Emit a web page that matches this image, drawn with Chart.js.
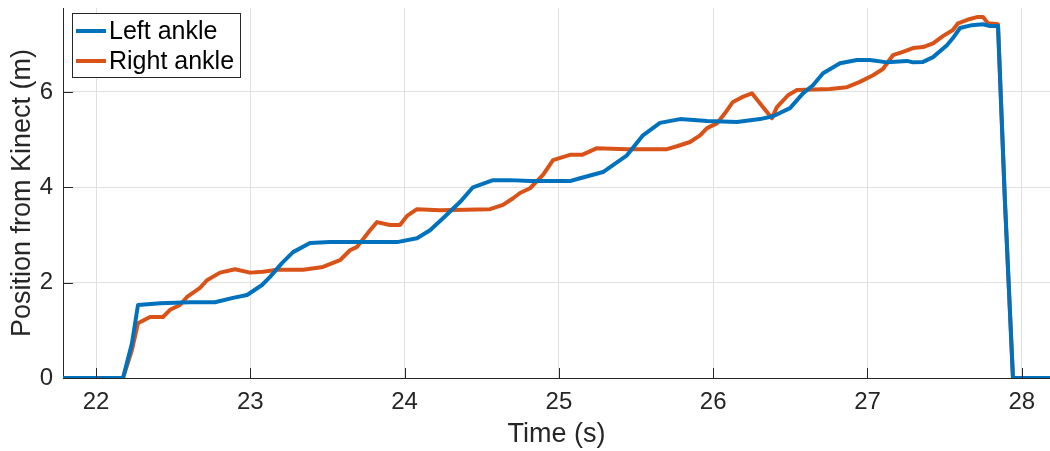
<!DOCTYPE html>
<html>
<head>
<meta charset="utf-8">
<title>Ankle position</title>
<script src="https://cdn.jsdelivr.net/npm/chart.js@4.4.1/dist/chart.umd.min.js"></script>
<style>
  html, body { margin: 0; padding: 0; background: #fff; }
  canvas { display: block; }
</style>
</head>
<body>
<canvas id="grafica" width="1050" height="451"></canvas>
<script>
// ankle positions read from the Kinect, time in seconds, position in metres
const leftTime = [21.786, 22.175, 22.233, 22.272, 22.415, 22.609, 22.771, 22.888, 22.979, 23.076,
  23.128, 23.205, 23.277, 23.387, 23.517, 23.951, 24.080, 24.165, 24.249, 24.359,
  24.443, 24.573, 24.683, 24.813, 25.072, 25.137, 25.286, 25.441, 25.545, 25.655,
  25.785, 25.960, 26.154, 26.303, 26.388, 26.498, 26.582, 26.647, 26.712, 26.822,
  26.932, 27.016, 27.126, 27.256, 27.295, 27.360, 27.425, 27.515, 27.554, 27.600,
  27.677, 27.749, 27.794, 27.846, 27.891, 27.943, 28.183];
const leftPos = [0, 0, 0.73, 1.53, 1.57, 1.59, 1.59, 1.68, 1.74, 1.95,
  2.12, 2.41, 2.64, 2.83, 2.85, 2.85, 2.93, 3.10, 3.35, 3.69,
  4.00, 4.15, 4.15, 4.13, 4.13, 4.19, 4.32, 4.67, 5.09, 5.35,
  5.43, 5.39, 5.37, 5.43, 5.49, 5.66, 5.97, 6.14, 6.39, 6.60,
  6.67, 6.67, 6.62, 6.65, 6.62, 6.63, 6.73, 6.98, 7.13, 7.34,
  7.40, 7.42, 7.38, 7.38, 3.70, 0, 0];

const rightTime = [21.786, 22.175, 22.233, 22.272, 22.350, 22.434, 22.480, 22.544, 22.590, 22.674,
  22.719, 22.804, 22.901, 22.998, 23.082, 23.173, 23.342, 23.471, 23.581, 23.646,
  23.692, 23.776, 23.821, 23.905, 23.970, 24.016, 24.080, 24.229, 24.553, 24.638,
  24.703, 24.748, 24.813, 24.897, 24.962, 25.072, 25.150, 25.247, 25.441, 25.701,
  25.765, 25.850, 25.915, 25.960, 26.024, 26.076, 26.128, 26.187, 26.251, 26.381,
  26.413, 26.485, 26.543, 26.757, 26.867, 26.951, 27.036, 27.100, 27.165, 27.230,
  27.295, 27.360, 27.425, 27.489, 27.554, 27.587, 27.664, 27.710, 27.749, 27.781,
  27.846, 27.891, 27.943, 28.183];
const rightPos = [0, 0, 0.59, 1.15, 1.28, 1.28, 1.43, 1.53, 1.70, 1.89,
  2.05, 2.21, 2.28, 2.21, 2.23, 2.27, 2.27, 2.33, 2.47, 2.68,
  2.75, 3.10, 3.27, 3.21, 3.21, 3.40, 3.54, 3.52, 3.54, 3.63,
  3.77, 3.88, 3.98, 4.26, 4.57, 4.68, 4.68, 4.82, 4.80, 4.80,
  4.86, 4.95, 5.09, 5.24, 5.34, 5.55, 5.79, 5.89, 5.97, 5.45,
  5.68, 5.93, 6.04, 6.06, 6.10, 6.21, 6.35, 6.48, 6.77, 6.84,
  6.92, 6.94, 7.02, 7.17, 7.30, 7.44, 7.53, 7.57, 7.57, 7.44,
  7.42, 3.70, 0, 0];

const seriesNames = ["Left ankle", "Right ankle"];
const timeRange = [21.786, 28.183];
const posRange = [0, 7.76];

const FONT = '"Liberation Sans", Arial, Helvetica, sans-serif';
const INK = '#262626';

function puntos(ts, vs) {
  return ts.map((t, i) => ({ x: t, y: vs[i] }));
}

// small tick marks pointing into the plot
const inwardTicks = {
  id: 'inwardTicks',
  afterDatasetsDraw(chart) {
    const { ctx, chartArea: a, scales: { x, y } } = chart;
    ctx.save();
    ctx.strokeStyle = INK;
    ctx.lineWidth = 1;
    ctx.beginPath();
    x.ticks.forEach(t => {
      const px = Math.round(x.getPixelForValue(t.value)) + 0.5;
      ctx.moveTo(px, a.bottom);
      ctx.lineTo(px, a.bottom - 10);
    });
    y.ticks.forEach(t => {
      const py = Math.round(y.getPixelForValue(t.value)) + 0.5;
      ctx.moveTo(a.left, py);
      ctx.lineTo(a.left + 10, py);
    });
    ctx.stroke();
    ctx.restore();
  }
};

// boxed legend inside the top-left corner
const legendBox = {
  id: 'legendBox',
  afterDraw(chart) {
    const ctx = chart.ctx, a = chart.chartArea;
    const x0 = a.left + 9, y0 = a.top + 5, w = 168, h = 64;
    ctx.save();
    ctx.fillStyle = '#fff';
    ctx.fillRect(x0, y0, w, h);
    ctx.strokeStyle = INK;
    ctx.lineWidth = 1;
    ctx.strokeRect(x0 + 0.5, y0 + 0.5, w, h);
    ctx.font = '25px ' + FONT;
    ctx.textBaseline = 'middle';
    chart.data.datasets.forEach((ds, i) => {
      const yy = y0 + 18 + i * 30;
      ctx.strokeStyle = ds.borderColor;
      ctx.lineWidth = 4;
      ctx.beginPath();
      ctx.moveTo(x0 + 4, yy);
      ctx.lineTo(x0 + 34, yy);
      ctx.stroke();
      ctx.fillStyle = '#000';
      ctx.fillText(ds.label, x0 + 37, yy + 1);
    });
    ctx.restore();
  }
};

new Chart(document.getElementById('grafica').getContext('2d'), {
  type: 'line',
  data: {
    datasets: [
      {
        label: seriesNames[0],
        data: puntos(leftTime, leftPos),
        borderColor: '#0072BD',
        backgroundColor: '#0072BD',
        borderWidth: 4,
        pointRadius: 0,
        tension: 0,
        borderJoinStyle: 'round'
      },
      {
        label: seriesNames[1],
        data: puntos(rightTime, rightPos),
        borderColor: '#D95319',
        backgroundColor: '#D95319',
        borderWidth: 4,
        pointRadius: 0,
        tension: 0,
        borderJoinStyle: 'round'
      }
    ]
  },
  options: {
    responsive: false,
    animation: false,
    devicePixelRatio: 1,
    layout: { padding: { top: 8, right: 0, left: 0, bottom: 0 } },
    plugins: { legend: { display: false }, tooltip: { enabled: false } },
    scales: {
      x: {
        type: 'linear',
        min: timeRange[0],
        max: timeRange[1],
        afterFit(scale) {
          scale.height = 73;
          scale.paddingLeft = 0;
          scale.paddingRight = 0;
        },
        grid: { color: '#e0e0e0', lineWidth: 1, drawTicks: false },
        border: { display: true, color: INK, width: 1 },
        ticks: {
          stepSize: 1,
          includeBounds: false,
          padding: 10,
          color: INK,
          font: { family: FONT, size: 24 }
        },
        title: {
          display: true,
          text: 'Time (s)',
          color: INK,
          font: { family: FONT, size: 27 },
          padding: { top: 0, bottom: 0 }
        }
      },
      y: {
        min: posRange[0],
        max: posRange[1],
        afterFit(scale) {
          scale.width = 63;
          scale.paddingTop = 0;
          scale.paddingBottom = 0;
        },
        grid: { color: '#e0e0e0', lineWidth: 1, drawTicks: false },
        border: { display: true, color: INK, width: 1 },
        ticks: {
          stepSize: 2,
          includeBounds: false,
          padding: 10,
          color: INK,
          font: { family: FONT, size: 24 }
        },
        title: {
          display: true,
          text: 'Position from Kinect (m)',
          color: INK,
          font: { family: FONT, size: 27 },
          padding: { top: 6, bottom: 0 }
        }
      }
    }
  },
  plugins: [inwardTicks, legendBox]
});
</script>
</body>
</html>
